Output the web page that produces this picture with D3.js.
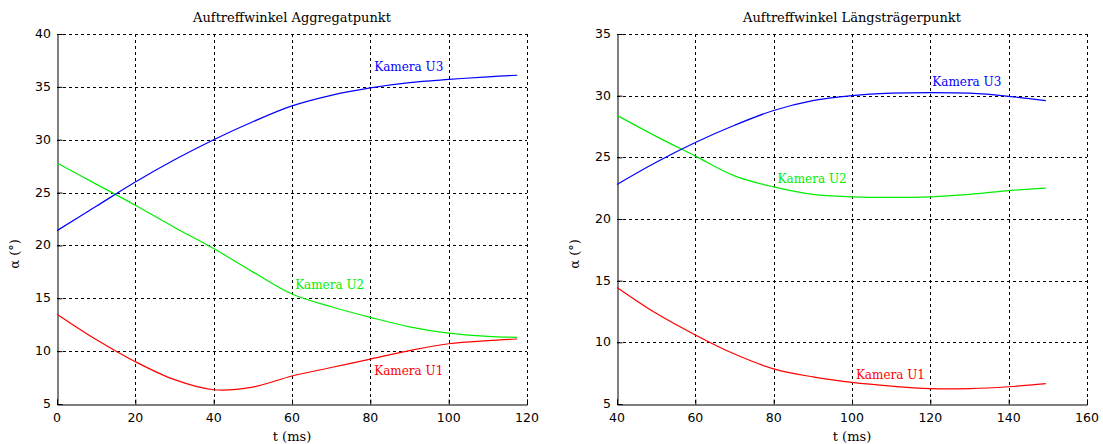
<!DOCTYPE html>
<html><head><meta charset="utf-8">
<script src="https://cdn.jsdelivr.net/npm/d3@7"></script>
<style>body{margin:0;background:#fff}svg{display:block}</style>
</head><body>
<svg id="c" width="1103" height="444"></svg>
<script>
// ---- data ----
const titles = ["Auftreffwinkel Aggregatpunkt", "Auftreffwinkel Längsträgerpunkt"];
const seriesNames = ["Kamera U1", "Kamera U2", "Kamera U3"];
const seriesColors = ["#ff0000", "#00ee00", "#0000ff"];

const tA = [0, 10, 20, 30, 40, 50, 60, 70, 80, 90, 100, 110, 117.5];
const aU1 = [13.5, 11.1, 9.0, 7.3, 6.35, 6.6, 7.65, 8.45, 9.25, 10.05, 10.7, 11.0, 11.15];
const aU2 = [27.8, 25.8, 23.8, 21.7, 19.7, 17.5, 15.4, 14.2, 13.2, 12.3, 11.7, 11.4, 11.3];
const aU3 = [21.4, 23.7, 26.0, 28.1, 30.0, 31.7, 33.2, 34.2, 34.9, 35.4, 35.7, 35.95, 36.1];
const aXTicks = [0, 20, 40, 60, 80, 100, 120];
const aYTicks = [5, 10, 15, 20, 25, 30, 35, 40];

const tB = [40, 50, 60, 70, 80, 90, 100, 110, 120, 130, 140, 149.5];
const bU1 = [14.45, 12.35, 10.6, 9.05, 7.85, 7.2, 6.75, 6.45, 6.25, 6.25, 6.4, 6.65];
const bU2 = [28.4, 26.7, 25.1, 23.5, 22.6, 22.0, 21.8, 21.75, 21.8, 22.0, 22.3, 22.5];
const bU3 = [22.8, 24.6, 26.2, 27.6, 28.8, 29.6, 30.0, 30.2, 30.25, 30.2, 29.95, 29.6];
const bXTicks = [40, 60, 80, 100, 120, 140, 160];
const bYTicks = [5, 10, 15, 20, 25, 30, 35];

// label anchor positions (data coords) for series labels
const aLabels = [[81, 7.7], [60.8, 15.9], [81, 36.5]];
const bLabels = [[101, 7.0], [81, 22.95], [120.5, 30.8]];

const svg = d3.select("#c");

function panel(left, title, t, series, xTicks, yTicks, labels) {
  const W = 470, H = 370, top = 34;
  const x = d3.scaleLinear().domain([xTicks[0], xTicks[xTicks.length-1]]).range([left, left + W]);
  const y = d3.scaleLinear().domain([yTicks[0], yTicks[yTicks.length-1]]).range([top + H, top]);
  const g = svg.append("g");

  // grid
  g.selectAll(".vg").data(xTicks.slice(1)).enter().append("line")
    .attr("x1", d => Math.round(x(d)) + 0.5).attr("x2", d => Math.round(x(d)) + 0.5)
    .attr("y1", top).attr("y2", top + H)
    .attr("stroke", "#000").attr("stroke-dasharray", "3,3").attr("stroke-width", 1);
  g.selectAll(".hg").data(yTicks.slice(1)).enter().append("line")
    .attr("y1", d => Math.round(y(d)) + 0.5).attr("y2", d => Math.round(y(d)) + 0.5)
    .attr("x1", left).attr("x2", left + W)
    .attr("stroke", "#000").attr("stroke-dasharray", "3,3").attr("stroke-width", 1);

  // axes (solid left & bottom with inward ticks)
  const xAxis = d3.axisBottom(x).tickValues(xTicks).tickSize(-5).tickFormat("");
  const yAxis = d3.axisLeft(y).tickValues(yTicks).tickSize(-5).tickFormat("");
  const gx = g.append("g").attr("transform", `translate(0,${Math.round(top + H) + 0.5})`).call(xAxis);
  const gy = g.append("g").attr("transform", `translate(${Math.round(left) + 0.5},0)`).call(yAxis);
  gx.select(".domain").attr("stroke", "#000");
  gy.select(".domain").attr("stroke", "#000");
  [gx, gy].forEach(a => a.selectAll(".tick line").attr("stroke", "#000"));

  // tick labels
  g.selectAll(".xl").data(xTicks).enter().append("text")
    .attr("x", d => x(d)).attr("y", top + H + 18)
    .attr("text-anchor", "middle").attr("font-family", "DejaVu Sans").attr("font-size", 12.5)
    .attr("fill", "#000").text(d => d);
  g.selectAll(".yl").data(yTicks).enter().append("text")
    .attr("x", left - 6).attr("y", d => y(d) + 4)
    .attr("text-anchor", "end").attr("font-family", "DejaVu Sans").attr("font-size", 12.5)
    .attr("fill", "#000").text(d => d);

  // series lines
  const line = d3.line().x(d => x(d[0])).y(d => y(d[1])).curve(d3.curveCatmullRom.alpha(0.5));
  series.forEach((vals, i) => {
    g.append("path").datum(t.map((tt, k) => [tt, vals[k]]))
      .attr("d", line).attr("fill", "none")
      .attr("stroke", seriesColors[i]).attr("stroke-width", 1.2);
    g.append("text")
      .attr("x", x(labels[i][0])).attr("y", y(labels[i][1]))
      .attr("font-family", "DejaVu Serif").attr("font-size", 12)
      .attr("fill", seriesColors[i]).text(seriesNames[i]);
  });

  // title & axis labels
  g.append("text").attr("x", left + W / 2).attr("y", 22).attr("text-anchor", "middle")
    .attr("font-family", "DejaVu Serif").attr("font-size", 13).attr("fill", "#000").text(title);
  g.append("text").attr("x", left + W / 2).attr("y", 441).attr("text-anchor", "middle")
    .attr("font-family", "DejaVu Serif").attr("font-size", 13).attr("fill", "#000").text("t (ms)");
  g.append("text").attr("transform", `translate(${left - 38},${top + H / 2 + 35}) rotate(-90)`)
    .attr("text-anchor", "middle")
    .attr("font-family", "DejaVu Serif").attr("font-size", 13).attr("fill", "#000").text("α (°)");
}

panel(57, titles[0], tA, [aU1, aU2, aU3], aXTicks, aYTicks, aLabels);
panel(617, titles[1], tB, [bU1, bU2, bU3], bXTicks, bYTicks, bLabels);
</script>
</body></html>
